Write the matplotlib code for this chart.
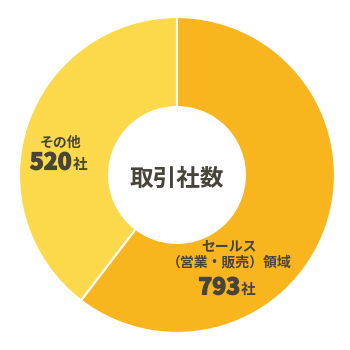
import matplotlib
matplotlib.use("Agg")
from matplotlib import pyplot as plt
from matplotlib import patheffects as pe

labels = ["セールス\n（営業・販売）領域", "その他"]
counts = [793, 520]
unit = "社"
center_title = "取引社数"
colors = ["#F9B51E", "#FCD94A"]
text_color = "#47453a"

plt.rcParams['font.family'] = ['Noto Sans CJK JP', 'DejaVu Sans']

fig = plt.figure(figsize=(3.5, 3.5), dpi=100)
ax = fig.add_axes([0, 0, 1, 1])
ax.pie(counts, colors=colors, startangle=90, counterclock=False,
       radius=1.0, wedgeprops=dict(width=0.57, edgecolor="white", linewidth=1.5))
ax.set_xlim(-1.12, 1.095)
ax.set_ylim(-1.108, 1.108)
ax.set_aspect("equal")
ax.axis("off")

ax.text(0.0, -0.025, center_title, ha="center", va="center",
        fontsize=17, fontweight="bold", color=text_color)

# label positions (data coords), tuned by eye
label_pos = [(0.33, -0.50), (-0.74, 0.205)]
num_pos = [(0.40, -0.715), (-0.665, 0.076)]
heavy = [pe.withStroke(linewidth=0.8, foreground=text_color)]

for lab, n, (lx, ly), (nx, ny) in zip(labels, counts, label_pos, num_pos):
    ax.text(lx, ly, lab, ha="center", va="center", fontsize=10,
            fontweight="bold", color=text_color, linespacing=1.2)
    ax.text(nx, ny, str(n), ha="right", va="center", fontsize=16.5,
            fontweight="heavy", color=text_color, path_effects=heavy)
    ax.text(nx + 0.005, ny - 0.005, unit, ha="left", va="center", fontsize=10.5,
            fontweight="bold", color=text_color)

fig.savefig("out.png")
